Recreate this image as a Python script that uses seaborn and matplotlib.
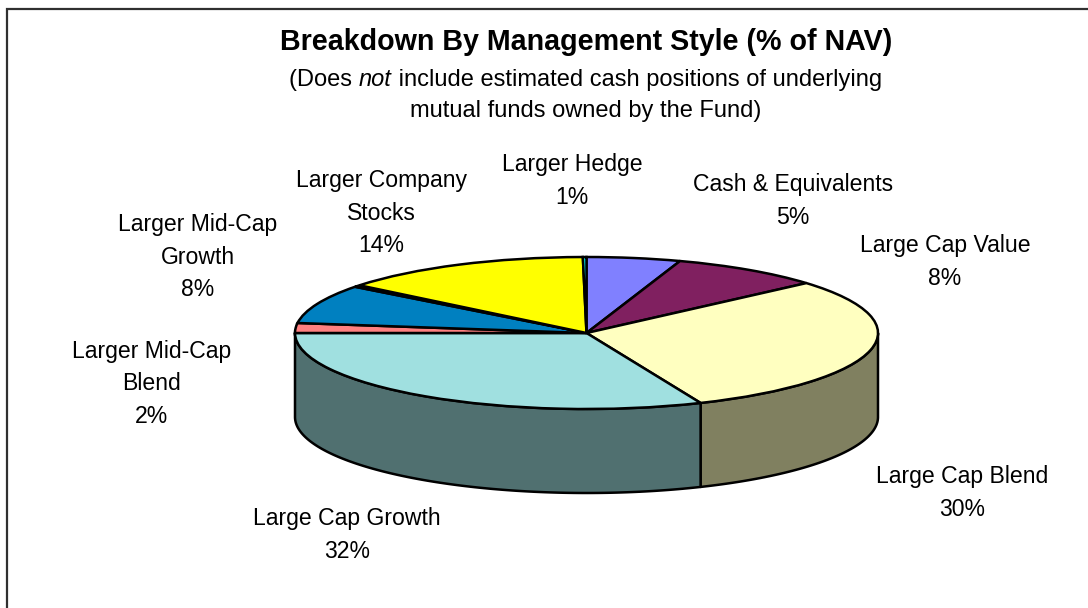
import numpy as np
import matplotlib
matplotlib.use("Agg")
import matplotlib.pyplot as plt
import seaborn as sns

sns.set_theme(style="white")
plt.rcParams["font.family"] = ["Liberation Sans", "DejaVu Sans"]

categories = ["Cash & Equivalents", "Large Cap Value", "Large Cap Blend", "Large Cap Growth",
              "Larger Mid-Cap Blend", "Larger Mid-Cap Growth", "Larger Mid-Cap Value",
              "Larger Company Stocks", "Larger Hedge"]
values = [5.2, 8.4, 30.0, 31.4, 2.1, 8.3, 0.4, 14.0, 0.2]
top_colors = ["#8080FF", "#802060", "#FFFFC0", "#A0E0E0", "#FF8080", "#0080C0", "#FF00FF", "#FFFF00", "#00FFFF"]
wall_colors = ["#404080", "#401030", "#808060", "#507070", "#804040", "#004060", "#800080", "#808000", "#008080"]
label_text = ["Cash & Equivalents\n5%", "Large Cap Value\n8%", "Large Cap Blend\n30%", "Large Cap Growth\n32%",
              "Larger Mid-Cap\nBlend\n2%", "Larger Mid-Cap\nGrowth\n8%", "",
              "Larger Company\nStocks\n14%", "Larger Hedge\n1%"]
label_xy = [(793, 201), (945, 262), (962, 493), (347, 535), (152, 384), (198, 257), (0, 0), (381, 213), (572, 181)]

W, H = 1088, 608
fig = plt.figure(figsize=(W / 100, H / 100), dpi=100, facecolor="white")

# overlay in pixel coordinates for frame and text
bg = fig.add_axes([0, 0, 1, 1])
bg.set_xlim(0, W)
bg.set_ylim(H, 0)
bg.axis("off")
bg.plot([7, 7, W], [H, 9, 9], color="#303030", lw=1.6, solid_joinstyle="miter")

# pie geometry in pixels
cx, cy, rx, ry, depth = 586.5, 333, 291.5, 76, 84
ax = fig.add_axes([(cx - rx) / W, 1 - (cy + ry) / H, 2 * rx / W, 2 * ry / H])
wedges, _ = ax.pie(values, colors=top_colors, startangle=90, counterclock=False, radius=1,
                   wedgeprops=dict(edgecolor="black", linewidth=1.8))
ax.set_aspect("auto")
ax.set_xlim(-1, 1)
ax.set_ylim(-1, 1)
ax.patch.set_alpha(0)

# side wall of the front half, from the same values
d = depth / ry
edges = np.concatenate([[0], np.cumsum(values)]) / np.sum(values) * 360
for i, col in enumerate(wall_colors):
    a0, a1 = max(edges[i], 90), min(edges[i + 1], 270)
    if a1 <= a0:
        continue
    t = np.radians(np.linspace(a0, a1, 120))
    x, y = np.sin(t), np.cos(t)
    ax.fill(np.r_[x, x[::-1]], np.r_[y, y[::-1] - d], facecolor=col, edgecolor="black",
            linewidth=1.8, clip_on=False, zorder=0.5, joinstyle="round")

bg2 = fig.add_axes([0, 0, 1, 1], sharex=bg, sharey=bg)
bg2.axis("off")
for txt, (x, y) in zip(label_text, label_xy):
    if txt:
        bg2.text(x, y, txt, ha="center", va="center", fontsize=16.6, color="black", linespacing=1.53)
bg2.text(586, 42, "Breakdown By Management Style (% of NAV)", ha="center", va="center",
         fontsize=20.6, fontweight="bold", color="black")
parts = [("(Does ", "normal"), ("not", "italic"), (" include estimated cash positions of underlying", "normal")]
x0 = 289
r = fig.canvas.get_renderer()
for s, st in parts:
    t = bg2.text(x0, 80, s.replace(" ", "\u00a0"), ha="left", va="center", fontsize=17, style=st, color="black")
    x0 += t.get_window_extent(r).width
bg2.text(586, 111, "mutual funds owned by the Fund)", ha="center", va="center", fontsize=17, color="black")

fig.savefig("out.png", dpi=100)
